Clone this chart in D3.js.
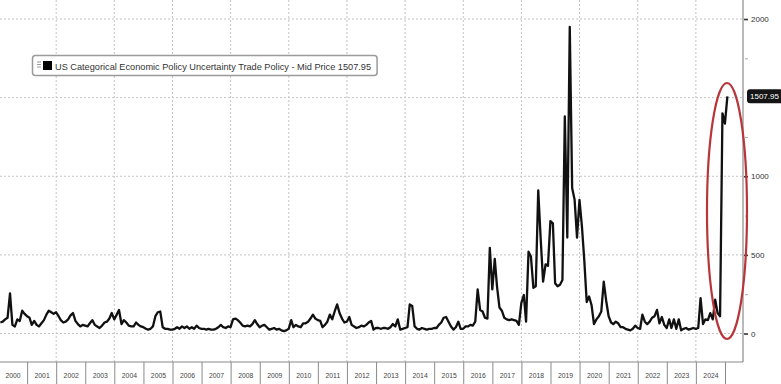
<!DOCTYPE html>
<html><head><meta charset="utf-8">
<script src="https://cdn.jsdelivr.net/npm/d3@7"></script>
<style>
html,body{margin:0;padding:0;background:#fff;}
svg{display:block;font-family:"Liberation Sans",Arial,sans-serif;}
</style></head>
<body>
<svg id="chart" width="781" height="384"></svg>
<script>
// Monthly values, Jan 2000 .. Jan 2025
const values = [
  70, 75, 90, 100, 255, 55, 45, 90, 80, 145, 125, 110,      // 2000
  100, 55, 80, 55, 45, 65, 85, 120, 145, 135, 125, 135,     // 2001
  110, 85, 70, 75, 90, 115, 130, 80, 60, 45, 55, 50,        // 2002
  45, 65, 85, 55, 45, 35, 50, 70, 75, 95, 130, 90,          // 2003
  120, 150, 60, 85, 70, 50, 45, 45, 70, 55, 45, 40,         // 2004
  30, 25, 30, 45, 110, 135, 140, 40, 30, 30, 25, 25,        // 2005
  30, 40, 30, 45, 35, 45, 30, 40, 30, 50, 35, 30,           // 2006
  30, 25, 30, 25, 25, 30, 40, 55, 40, 35, 45, 40,           // 2007
  90, 95, 85, 70, 50, 45, 50, 45, 60, 85, 60, 40,           // 2008
  50, 55, 40, 25, 30, 35, 25, 30, 20, 15, 20, 30,           // 2009
  85, 40, 55, 45, 40, 65, 65, 75, 95, 120, 95, 85,          // 2010
  80, 40, 55, 75, 120, 90, 140, 185, 130, 95, 70, 75,       // 2011
  105, 55, 45, 35, 40, 50, 45, 55, 70, 80, 25, 35,          // 2012
  35, 30, 35, 35, 30, 40, 60, 45, 90, 25, 30, 35,           // 2013
  40, 185, 175, 45, 30, 25, 35, 30, 25, 30, 30, 35,         // 2014
  35, 55, 70, 100, 105, 75, 45, 25, 40, 75, 30, 30,         // 2015
  45, 45, 55, 50, 75, 280, 150, 140, 100, 95, 545, 280,     // 2016
  475, 300, 165, 145, 100, 90, 85, 90, 85, 80, 55, 195,     // 2017
  245, 75, 520, 490, 290, 300, 910, 600, 330, 440, 430, 715,// 2018
  700, 320, 300, 310, 340, 1380, 610, 1950, 925, 850, 610, 850, // 2019
  680, 470, 200, 235, 180, 60, 90, 110, 140, 330, 210, 110, // 2020
  70, 60, 75, 65, 40, 40, 30, 25, 20, 30, 50, 35,           // 2021
  30, 120, 75, 60, 75, 100, 110, 150, 65, 105, 55, 35,      // 2022
  90, 35, 90, 30, 90, 20, 30, 35, 25, 30, 35, 30,           // 2023
  35, 225, 60, 90, 85, 130, 90, 215, 130, 110, 1400, 1335,  // 2024
  1507.95                                                   // 2025
];
const startYear = 2000;
const yearLabels = ["2000","2001","2002","2003","2004","2005","2006","2007","2008","2009","2010","2011","2012","2013","2014","2015","2016","2017","2018","2019","2020","2021","2022","2023","2024"];
const yTickValues = [0, 500, 1000, 2000];
const yGridValues = [0, 500, 1000, 1500, 2000];
const yMinorValues = [250, 750, 1250, 1750];
const seriesName = "US Categorical Economic Policy Uncertainty Trade Policy - Mid Price";
const lastValue = 1507.95;

const svg = d3.select("#chart");
const plotRight = 743, plotBottom = 362;

const x = d3.scaleTime()
  .domain([new Date(2000, 0, 1), new Date(2025, 0, 1)])
  .range([-2, 725]);
const y = d3.scaleLinear().domain([0, 2000]).range([333.5, 19]);

// data points plotted at month end
const data = values.map((v, i) => ({date: new Date(startYear, i + 1, 0), v}));

// gridlines
const grid = svg.append("g");
grid.selectAll("line.h").data(yGridValues).join("line")
  .attr("x1", 0).attr("x2", plotRight)
  .attr("y1", d => y(d)).attr("y2", d => y(d))
  .attr("stroke", "#c4c4c4").attr("stroke-width", 1).attr("stroke-dasharray", "2,2");
const evenYears = d3.range(2002, 2025, 2).map(yr => new Date(yr, 0, 1));
grid.selectAll("line.v").data(evenYears).join("line")
  .attr("x1", d => x(d)).attr("x2", d => x(d))
  .attr("y1", 0).attr("y2", plotBottom)
  .attr("stroke", "#c4c4c4").attr("stroke-width", 1).attr("stroke-dasharray", "2,2");

// frame
svg.append("line").attr("x1", 0).attr("x2", plotRight).attr("y1", plotBottom).attr("y2", plotBottom)
  .attr("stroke", "#8a8a8a").attr("stroke-width", 1.2);
svg.append("line").attr("x1", plotRight).attr("x2", plotRight).attr("y1", 0).attr("y2", plotBottom)
  .attr("stroke", "#8a8a8a").attr("stroke-width", 1.2);

// bottom axis: separators
const yearStarts = d3.range(2001, 2026).map(yr => new Date(yr, 0, 1));
const sepAxis = d3.axisBottom(x).tickValues(yearStarts).tickSize(24).tickFormat("");
const gSep = svg.append("g").attr("transform", `translate(0,${plotBottom})`).call(sepAxis);
gSep.select(".domain").remove();
gSep.selectAll(".tick line").attr("stroke", "#8a8a8a").attr("stroke-width", 1);

// bottom axis labels centred in each year
const midYears = yearLabels.map(l => new Date(+l, 6, 2));
const labAxis = d3.axisBottom(x).tickValues(midYears).tickSize(0).tickPadding(11)
  .tickFormat((d, i) => yearLabels[i]);
const gLab = svg.append("g").attr("transform", `translate(0,${plotBottom})`).call(labAxis);
gLab.select(".domain").remove();
gLab.selectAll(".tick text").attr("font-size", 6.8).attr("fill", "#444")
  .attr("font-family", "Liberation Sans, Arial, sans-serif");

// right axis
const rAxis = d3.axisRight(y).tickValues(yTickValues).tickSize(4).tickPadding(3)
  .tickFormat(d3.format("d"));
const gR = svg.append("g").attr("transform", `translate(${plotRight + 1},0)`).call(rAxis);
gR.select(".domain").remove();
gR.selectAll(".tick line").attr("stroke", "#333").attr("stroke-width", 1.6);
gR.selectAll(".tick text").attr("font-size", 8).attr("fill", "#333")
  .attr("font-family", "Liberation Sans, Arial, sans-serif");
const minorAxis = d3.axisRight(y).tickValues(yMinorValues).tickSize(3).tickFormat("");
const gMinor = svg.append("g").attr("transform", `translate(${plotRight + 2},0)`).call(minorAxis);
gMinor.select(".domain").remove();
gMinor.selectAll(".tick line").attr("stroke", "#aaa");

// series line
const line = d3.line().x(d => x(d.date)).y(d => y(d.v)).curve(d3.curveLinear);
svg.append("path").datum(data)
  .attr("fill", "none").attr("stroke", "#111").attr("stroke-width", 2.3)
  .attr("stroke-linejoin", "round").attr("d", line);

// last value badge
const badgeY = y(lastValue);
svg.append("rect").attr("x", 747).attr("y", badgeY - 7).attr("width", 36).attr("height", 14)
  .attr("rx", 3).attr("fill", "#151515");
svg.append("text").attr("x", 750).attr("y", badgeY + 3).attr("font-size", 8)
  .attr("fill", "#fff").text(d3.format(".2f")(lastValue));

// legend
const lg = svg.append("g");
const legText = lg.append("text").attr("x", 55).attr("y", 69.5).attr("font-size", 9.2)
  .attr("fill", "#333").text(`${seriesName} ${d3.format(".2f")(lastValue)}`);
const tw = legText.node().getComputedTextLength();
lg.insert("rect", "text").attr("x", 32.5).attr("y", 55.5).attr("width", 55 + tw + 6 - 32.5)
  .attr("height", 20).attr("rx", 3).attr("fill", "#fff").attr("stroke", "#9a9a9a").attr("stroke-width", 1.5);
[62, 64.5, 67].forEach(yy => lg.append("line").attr("x1", 37).attr("x2", 41).attr("y1", yy).attr("y2", yy)
  .attr("stroke", "#999").attr("stroke-width", 1));
lg.append("rect").attr("x", 43).attr("y", 61).attr("width", 9).attr("height", 9).attr("fill", "#000");

// red ellipse annotation
svg.append("ellipse").attr("cx", 727).attr("cy", 211).attr("rx", 20).attr("ry", 128)
  .attr("fill", "none").attr("stroke", "#b8363a").attr("stroke-width", 2.2);
</script>
</body></html>
